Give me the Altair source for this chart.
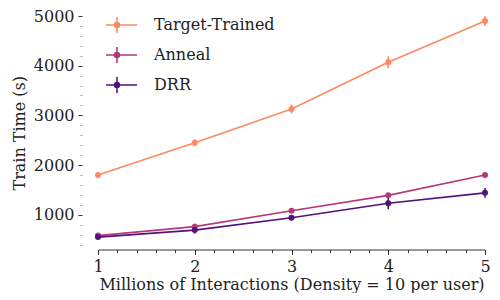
import altair as alt
import pandas as pd

x_vals = [1, 2, 3, 4, 5]
series_names = ["Target-Trained", "Anneal", "DRR"]
target_mean = [1800, 2450, 3130, 4070, 4900]
target_err = [30, 70, 90, 120, 100]
anneal_mean = [580, 760, 1080, 1390, 1800]
anneal_err = [30, 60, 35, 35, 30]
drr_mean = [550, 690, 940, 1230, 1440]
drr_err = [30, 70, 35, 120, 100]
colors = ["#fc8961", "#b73779", "#51127c"]
x_tick_values = [1, 1.2, 1.4, 1.6, 1.8, 2, 2.2, 2.4, 2.6, 2.8, 3, 3.2, 3.4, 3.6, 3.8,
                 4, 4.2, 4.4, 4.6, 4.8, 5]
y_tick_values = [400, 600, 800, 1000, 1200, 1400, 1600, 1800, 2000, 2200, 2400, 2600,
                 2800, 3000, 3200, 3400, 3600, 3800, 4000, 4200, 4400, 4600, 4800, 5000]

rows = []
for name, m, e in [("Target-Trained", target_mean, target_err),
                   ("Anneal", anneal_mean, anneal_err),
                   ("DRR", drr_mean, drr_err)]:
    for xv, mv, ev in zip(x_vals, m, e):
        rows.append({"x": xv, "series": name, "y": mv, "lo": mv - ev, "hi": mv + ev})
df = pd.DataFrame(rows)

FONT = "DejaVu Serif"
FS = 16
cscale = alt.Scale(domain=series_names, range=colors)
xscale = alt.Scale(domain=[1, 5], nice=False, zero=False)
yscale = alt.Scale(domain=[300, 5000], nice=False, zero=False)

color_leg = alt.Color("series:N", scale=cscale,
                      legend=alt.Legend(
                          title=None, orient="none", legendX=8, legendY=-5,
                          symbolType="M-2,0H2M0,-0.8V0.8M-0.24,0A0.24,0.24 0 1,0 0.24,0A0.24,0.24 0 1,0 -0.24,0",
                          symbolSize=400, symbolStrokeWidth=1.6,
                          labelFont=FONT, labelFontSize=FS, labelColor="#222",
                          labelOffset=26, clipHeight=28, rowPadding=2))
color_plain = alt.Color("series:N", scale=cscale, legend=None)

x_axis = alt.Axis(title="Millions of Interactions (Density = 10 per user)",
                  values=x_tick_values,
                  labelExpr="abs(datum.value - round(datum.value)) < 0.01 ? format(datum.value, 'd') : ''",
                  labelOverlap=False, labelFlush=False,
                  tickSize={"condition": {"test": "abs(datum.value - round(datum.value)) < 0.01", "value": 5}, "value": 3},
                  tickColor="#333", domainColor="#333", grid=False,
                  labelFont=FONT, labelFontSize=FS, labelColor="#222", labelPadding=4,
                  titleFont=FONT, titleFontSize=FS, titleFontWeight="normal", titleColor="#222",
                  titlePadding=2)
y_axis = alt.Axis(title="Train Time (s)",
                  values=y_tick_values,
                  labelExpr="datum.value % 1000 === 0 ? format(datum.value, 'd') : ''",
                  labelOverlap=False, labelFlush=False,
                  tickSize={"condition": {"test": "datum.value % 1000 === 0", "value": 4}, "value": 2},
                  tickColor={"condition": {"test": "datum.value % 1000 === 0", "value": "#333"}, "value": "#999"},
                  domain=False, grid=False, offset=16,
                  labelFont=FONT, labelFontSize=FS, labelColor="#222", labelPadding=4,
                  titleFont=FONT, titleFontSize=FS, titleFontWeight="normal", titleColor="#222",
                  titlePadding=6)

xs = alt.X("x:Q", scale=xscale, axis=x_axis)

base = alt.Chart(df)
lines = base.mark_line(strokeWidth=1.6, clip=False).encode(
    x=xs, y=alt.Y("y:Q", scale=yscale, axis=y_axis), color=color_leg)
bars = base.mark_rule(strokeWidth=1.6, clip=False).encode(
    x=xs, y=alt.Y("lo:Q", scale=yscale, axis=y_axis), y2="hi:Q", color=color_plain)
pts = base.mark_circle(size=36, opacity=1, clip=False).encode(
    x=xs, y=alt.Y("y:Q", scale=yscale, axis=y_axis), color=color_plain)

chart = alt.layer(lines, bars, pts).properties(
    width=387, height=233.5, background="white",
    autosize=alt.AutoSizeParams(type="none"),
    padding={"left": 90, "top": 8, "right": 7, "bottom": 43}
).configure_view(stroke=None)

chart.save("out.html", embed_options={"renderer": "svg", "actions": False})
